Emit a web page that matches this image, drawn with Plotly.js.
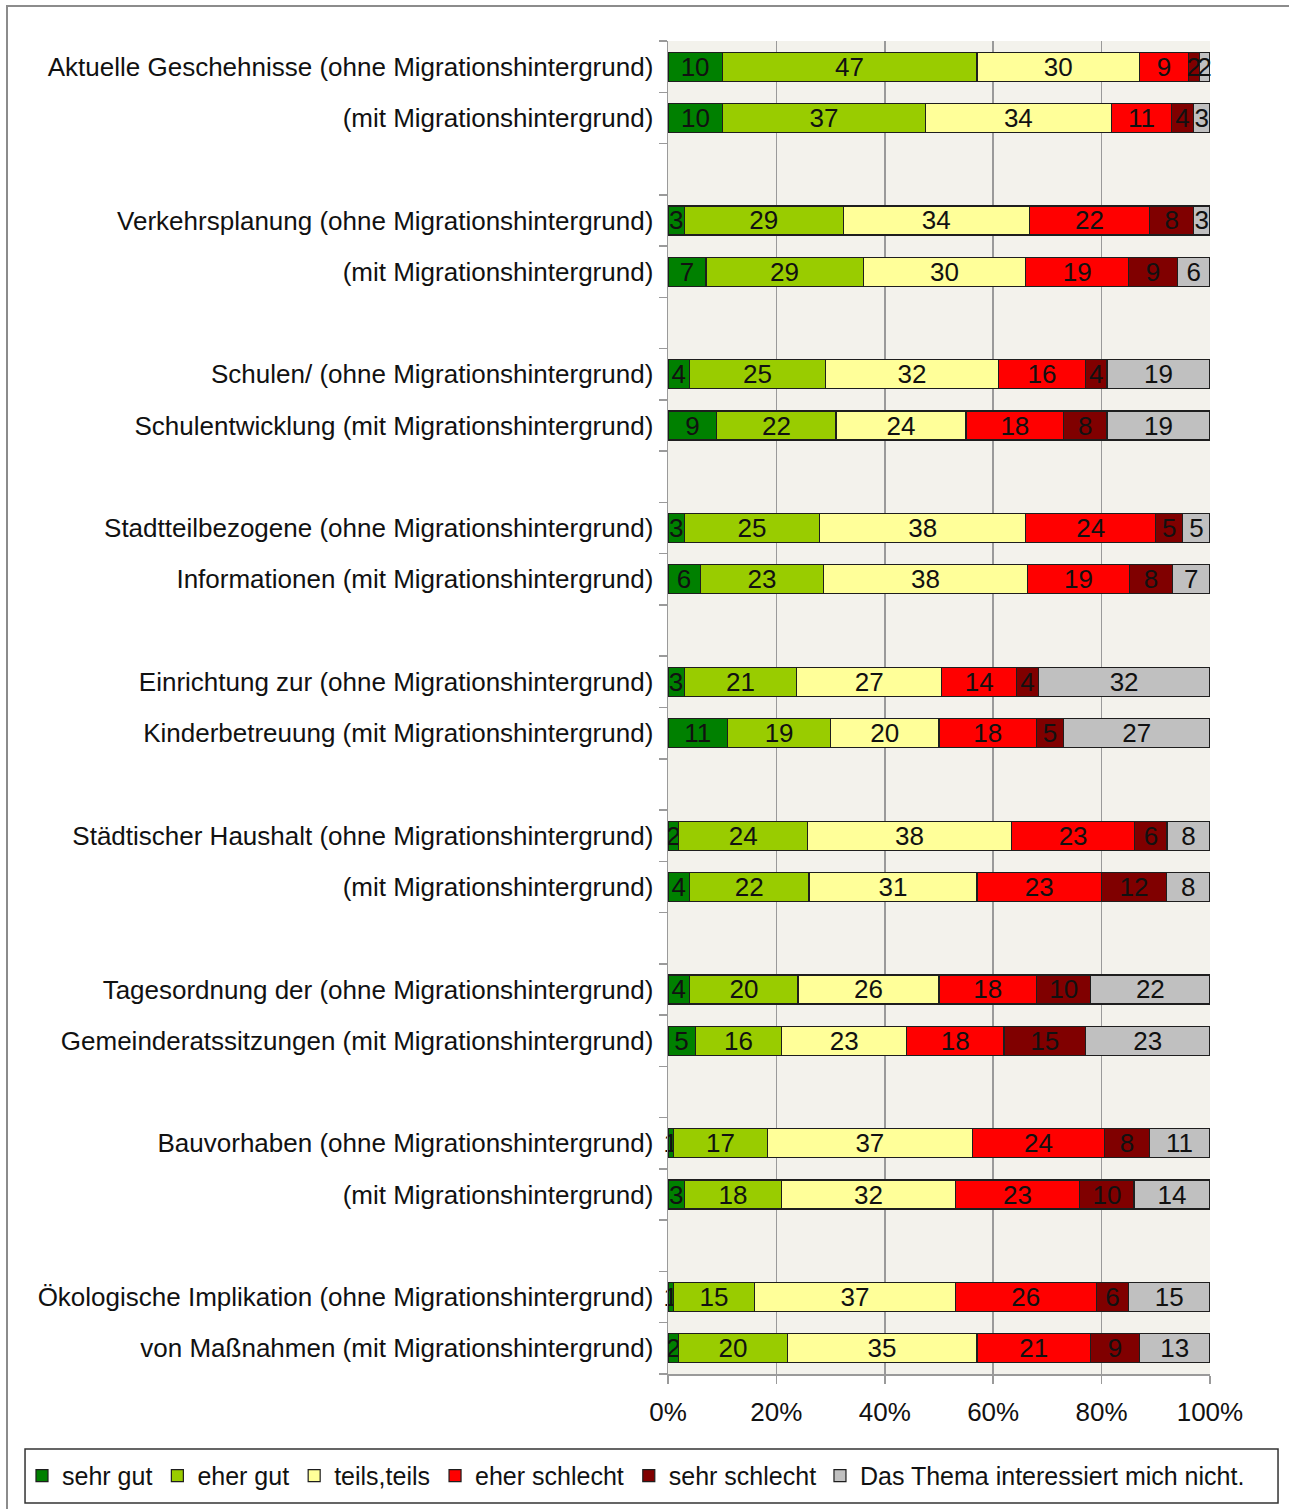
<!DOCTYPE html>
<html>
<head>
<meta charset="utf-8">
<script src="https://cdn.plot.ly/plotly-3.0.1.min.js"></script>
<style>
  html, body { margin: 0; padding: 0; background: #ffffff; }
  #wrap { position: relative; width: 1289px; height: 1509px; }
  #chart { position: absolute; left: 0; top: 0; width: 1289px; height: 1509px; }
  #frame { position: absolute; left: 6px; top: 5px; width: 1283px; height: 1504px;
           border-left: 2px solid #8c8c8c; border-top: 2px solid #8c8c8c; pointer-events: none; }
</style>
</head>
<body>
<div id="wrap">
  <div id="chart"></div>
  <div id="frame"></div>
</div>
<script>
// ---- data ----
const rowLabels = [
  "Aktuelle Geschehnisse (ohne Migrationshintergrund)",
  "(mit Migrationshintergrund)",
  "Verkehrsplanung (ohne Migrationshintergrund)",
  "(mit Migrationshintergrund)",
  "Schulen/ (ohne Migrationshintergrund)",
  "Schulentwicklung (mit Migrationshintergrund)",
  "Stadtteilbezogene (ohne Migrationshintergrund)",
  "Informationen (mit Migrationshintergrund)",
  "Einrichtung zur (ohne Migrationshintergrund)",
  "Kinderbetreuung (mit Migrationshintergrund)",
  "Städtischer Haushalt (ohne Migrationshintergrund)",
  "(mit Migrationshintergrund)",
  "Tagesordnung der (ohne Migrationshintergrund)",
  "Gemeinderatssitzungen (mit Migrationshintergrund)",
  "Bauvorhaben (ohne Migrationshintergrund)",
  "(mit Migrationshintergrund)",
  "Ökologische Implikation (ohne Migrationshintergrund)",
  "von Maßnahmen (mit Migrationshintergrund)"
];

const seriesNames = ["sehr gut", "eher gut", "teils,teils", "eher schlecht", "sehr schlecht", "Das Thema interessiert mich nicht."];

const sehrGut      = [10, 10, 3, 7, 4, 9, 3, 6, 3, 11, 2, 4, 4, 5, 1, 3, 1, 2];
const eherGut      = [47, 37, 29, 29, 25, 22, 25, 23, 21, 19, 24, 22, 20, 16, 17, 18, 15, 20];
const teilsTeils   = [30, 34, 34, 30, 32, 24, 38, 38, 27, 20, 38, 31, 26, 23, 37, 32, 37, 35];
const eherSchlecht = [9, 11, 22, 19, 16, 18, 24, 19, 14, 18, 23, 23, 18, 18, 24, 23, 26, 21];
const sehrSchlecht = [2, 4, 8, 9, 4, 8, 5, 8, 4, 5, 6, 12, 10, 15, 8, 10, 6, 9];
const keinInteresse= [2, 3, 3, 6, 19, 19, 5, 7, 32, 27, 8, 8, 22, 23, 11, 14, 15, 13];

const xTickVals = [0, 20, 40, 60, 80, 100];

// ---- styling ----
const colors = ["#008000", "#99CC00", "#FFFF99", "#FF0000", "#800000", "#C0C0C0"];
const seriesValues = [sehrGut, eherGut, teilsTeils, eherSchlecht, sehrSchlecht, keinInteresse];
const FONT = '"Liberation Sans", Arial, Helvetica, sans-serif';

// rows come in pairs separated by one empty slot
const slotOf = rowLabels.map((_, i) => Math.floor(i / 2) * 3 + (i % 2));
const nSlots = slotOf[slotOf.length - 1] + 1;
const boundaries = [];
for (let k = 0; k <= nSlots; k++) boundaries.push(k - 0.5);

const traces = seriesValues.map((vals, s) => ({
  type: 'bar',
  orientation: 'h',
  name: seriesNames[s],
  legend: s === seriesValues.length - 1 ? 'legend2' : 'legend',
  x: vals,
  y: slotOf,
  text: vals.map(v => String(v)),
  texttemplate: '%{text}',
  textposition: 'inside',
  insidetextanchor: 'middle',
  constraintext: 'none',
  textangle: 0,
  cliponaxis: false,
  textfont: { family: FONT, size: 26, color: '#111111' },
  marker: { color: colors[s], line: { color: '#1e1e1e', width: 1.2 } },
  hoverinfo: 'skip'
}));

const legendCommon = {
  orientation: 'h',
  xanchor: 'left',
  yanchor: 'middle',
  y: -0.0765,
  bgcolor: 'rgba(0,0,0,0)',
  borderwidth: 0,
  font: { family: FONT, size: 25, color: '#111111' },
  traceorder: 'normal',
  itemwidth: 30,
  tracegroupgap: 0
};

const layout = {
  width: 1289,
  height: 1509,
  margin: { l: 668, r: 79, t: 41, b: 135, pad: 0, autoexpand: false },
  paper_bgcolor: '#ffffff',
  plot_bgcolor: '#F3F2EC',
  barmode: 'stack',
  barnorm: 'percent',
  bargap: 0.435,
  font: { family: FONT, size: 26, color: '#111111' },
  showlegend: true,
  legend: Object.assign({}, legendCommon, { x: -1.1919 }),
  legend2: Object.assign({}, legendCommon, { x: 0.2804 }),
  shapes: [{
    type: 'rect', xref: 'paper', yref: 'paper',
    x0: -1.1863, x1: 1.1255, y0: -0.0968, y1: -0.0563,
    line: { color: '#333333', width: 1.5 },
    fillcolor: 'rgba(0,0,0,0)'
  }],
  xaxis: {
    range: [0, 100.01],
    tickmode: 'array',
    tickvals: xTickVals,
    ticktext: xTickVals.map(v => v + '%'),
    showgrid: true,
    gridcolor: '#9a9a9a',
    gridwidth: 1.5,
    zeroline: false,
    showline: true,
    linecolor: '#9a9a9a',
    linewidth: 1.5,
    ticks: 'outside',
    ticklen: 8,
    tickwidth: 1.5,
    tickcolor: '#9a9a9a',
    ticklabelstandoff: 6,
    tickfont: { family: FONT, size: 26, color: '#111111' },
    fixedrange: true
  },
  yaxis: {
    range: [nSlots - 0.5, -0.5],
    tickmode: 'array',
    tickvals: slotOf,
    ticktext: rowLabels,
    showgrid: false,
    zeroline: false,
    showline: true,
    linecolor: '#9a9a9a',
    linewidth: 1.5,
    ticks: 'outside',
    ticklen: 8,
    tickwidth: 1,
    tickcolor: 'rgba(0,0,0,0)',
    minor: {
      tickmode: 'array',
      tickvals: boundaries,
      ticks: 'outside',
      ticklen: 8,
      tickwidth: 1.5,
      tickcolor: '#9a9a9a',
      showgrid: false
    },
    tickfont: { family: FONT, size: 26, color: '#111111' },
    fixedrange: true
  }
};

Plotly.newPlot('chart', traces, layout, { staticPlot: true, displayModeBar: false });
</script>
</body>
</html>
